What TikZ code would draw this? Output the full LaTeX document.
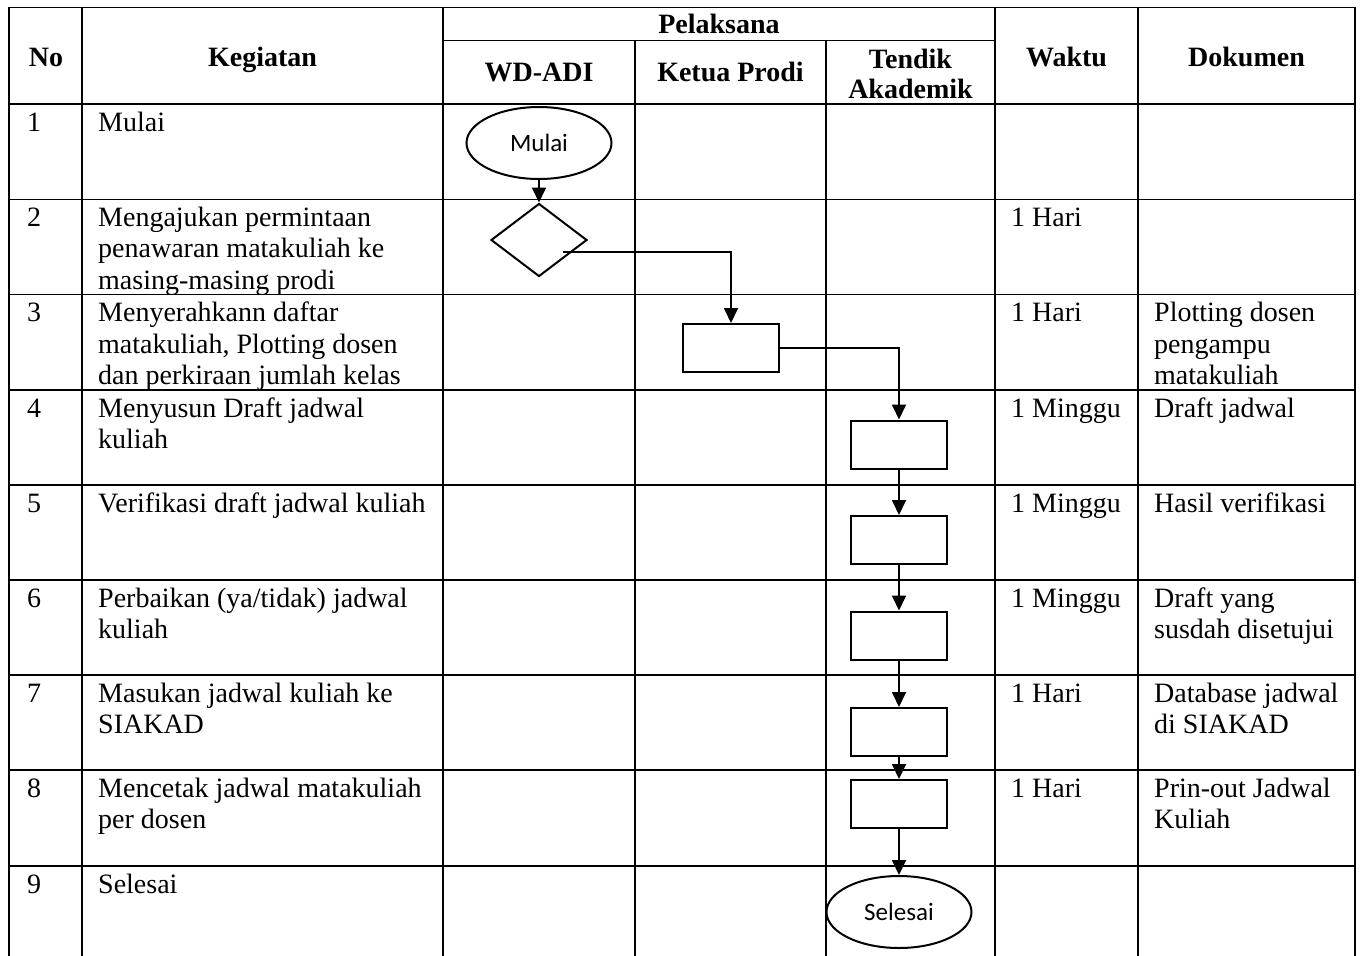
\documentclass[tikz,border=0pt]{standalone}
\usepackage{fontspec}
\setmainfont{Liberation Serif}
\newfontfamily\sansf{Carlito}
\usetikzlibrary{shapes.geometric,arrows.meta}
\begin{document}
\begin{tikzpicture}[x=1pt,y=-1pt,
  gridline/.style={line width=1.2pt},
  flowshape/.style={draw,line width=2pt},
  proc/.style={flowshape,rectangle,minimum width=96pt,minimum height=48pt,inner sep=0pt},
  term/.style={flowshape,ellipse,minimum width=145pt,minimum height=72pt,inner sep=0pt,font=\sansf\fontsize{25}{29}\selectfont},
  dec/.style={flowshape,diamond,minimum width=96pt,minimum height=73pt,inner sep=0pt},
  arr/.style={line width=1.8pt,-{Triangle[length=15pt,width=14pt]}},
  txt/.style={anchor=base west,inner sep=0pt,align=left,font=\fontsize{28}{31.5}\selectfont},
  two/.style={txt,yshift=-31.5pt},
  three/.style={txt,yshift=-63pt},
  hd/.style={anchor=base,inner sep=0pt,align=center,font=\bfseries\fontsize{28}{31.5}\selectfont}
]
\useasboundingbox (0,0) rectangle (1361,956);
% grid
\draw[gridline] (9,956) -- (9,7.5) -- (1355,7.5) -- (1355,956);
\draw[gridline] (82,7.5) -- (82,956);
\draw[gridline] (443,7.5) -- (443,956);
\draw[gridline] (995,7.5) -- (995,956);
\draw[gridline] (1138,7.5) -- (1138,956);
\draw[gridline] (443,40.7) -- (995,40.7);
\draw[gridline] (635,40.7) -- (635,956);
\draw[gridline] (826,40.7) -- (826,956);
\foreach \yy in {104,199.5,294.7,390,485,580,675,770,866}
  \draw[gridline] (9,\yy) -- (1355,\yy);
% headers
\node[hd] (hno) at (46,66) {No};
\node[hd] (hkeg) at (262.5,66) {Kegiatan};
\node[hd] (hpel) at (719,33) {Pelaksana};
\node[hd] (hwd) at (539,81) {WD-ADI};
\node[hd] (hkp) at (730.5,81) {Ketua Prodi};
\node[hd] (hte) at (910.5,68) {Tendik};
\node[hd] (hak) at (910.5,98) {Akademik};
\node[hd] (hwa) at (1066.5,66) {Waktu};
\node[hd] (hdo) at (1246.5,66) {Dokumen};
% numbers
\node[txt] (n1) at (27,131) {1};
\node[txt] (n2) at (27,226) {2};
\node[txt] (n3) at (27,321.5) {3};
\node[txt] (n4) at (27,417) {4};
\node[txt] (n5) at (27,512) {5};
\node[txt] (n6) at (27,607) {6};
\node[txt] (n7) at (27,702) {7};
\node[txt] (n8) at (27,797) {8};
\node[txt] (n9) at (27,893) {9};
% kegiatan
\node[txt] (k1) at (98,131) {Mulai};
\node[three] (k2) at (98,226) {Mengajukan permintaan\\penawaran matakuliah ke\\masing-masing prodi};
\node[three] (k3) at (98,321.5) {Menyerahkann daftar\\matakuliah, Plotting dosen\\dan perkiraan jumlah kelas};
\node[two] (k4) at (98,417) {Menyusun Draft jadwal\\kuliah};
\node[txt] (k5) at (98,512) {Verifikasi draft jadwal kuliah};
\node[two] (k6) at (98,607) {Perbaikan (ya/tidak) jadwal\\kuliah};
\node[two] (k7) at (98,702) {Masukan jadwal kuliah ke\\SIAKAD};
\node[two] (k8) at (98,797) {Mencetak jadwal matakuliah\\per dosen};
\node[txt] (k9) at (98,893) {Selesai};
% waktu
\node[txt] (w2) at (1011,226) {1 Hari};
\node[txt] (w3) at (1011,321.5) {1 Hari};
\node[txt] (w4) at (1011,417) {1 Minggu};
\node[txt] (w5) at (1011,512) {1 Minggu};
\node[txt] (w6) at (1011,607) {1 Minggu};
\node[txt] (w7) at (1011,702) {1 Hari};
\node[txt] (w8) at (1011,797) {1 Hari};
% dokumen
\node[three] (d3) at (1154,321.5) {Plotting dosen\\pengampu\\matakuliah};
\node[txt] (d4) at (1154,417) {Draft jadwal};
\node[txt] (d5) at (1154,512) {Hasil verifikasi};
\node[two] (d6) at (1154,607) {Draft yang\\susdah disetujui};
\node[two] (d7) at (1154,702) {Database jadwal\\di SIAKAD};
\node[two] (d8) at (1154,797) {Prin-out Jadwal\\Kuliah};
% flow
\node[term] (mulai) at (539,143) {Mulai};
\node[dec] (dmd) at (539,240) {};
\node[proc] (p3) at (731,348) {};
\node[proc] (p4) at (899,444.5) {};
\node[proc] (p5) at (899,540) {};
\node[proc] (p6) at (899,635.5) {};
\node[proc] (p7) at (899,732) {};
\node[proc] (p8) at (899,804) {};
\node[term] (selesai) at (899,912) {Selesai};
\coordinate (dout) at (563,251.7);
\draw[arr] (mulai.south) -- (dmd.north);
\draw[arr] (dout) -| (p3.north);
\draw[arr] (p3.east) -| (p4.north);
\draw[arr] (p4.south) -- (p5.north);
\draw[arr] (p5.south) -- (p6.north);
\draw[arr] (p6.south) -- (p7.north);
\draw[arr] (p7.south) -- (p8.north);
\draw[arr] (p8.south) -- (selesai.north);
\end{tikzpicture}
\end{document}
